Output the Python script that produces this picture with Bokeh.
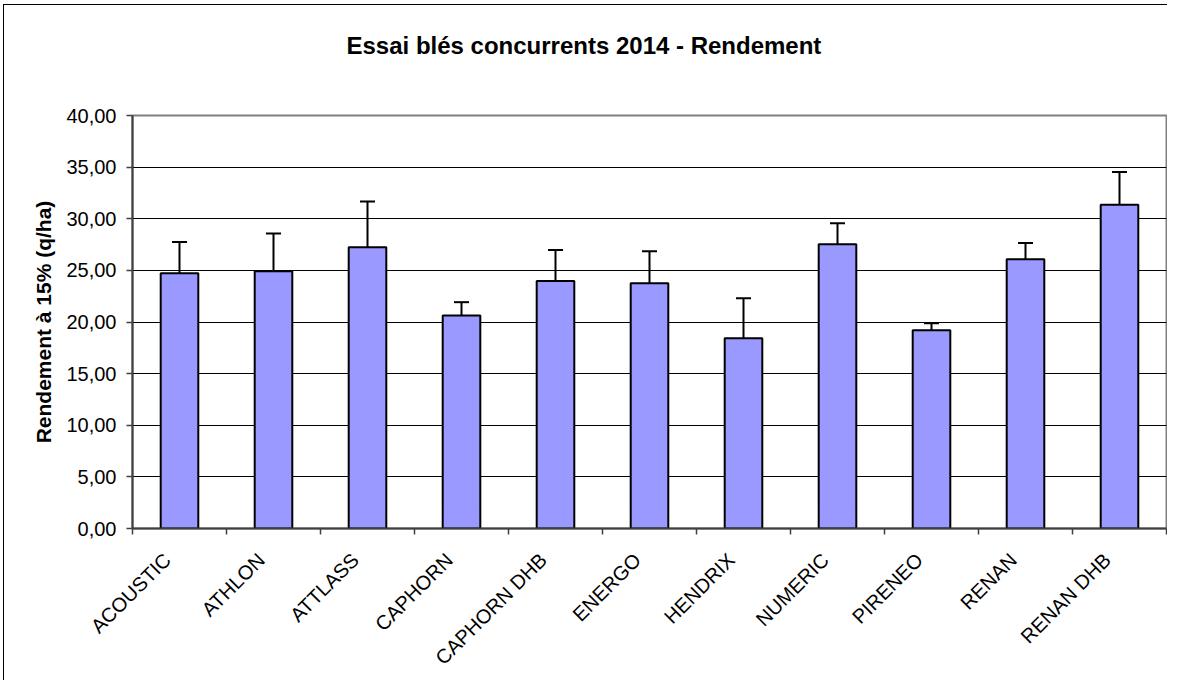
import math
from bokeh.plotting import figure
from bokeh.models import (ColumnDataSource, FixedTicker, Whisker, TeeHead, Range1d,
                          Title, LinearAxis)
from bokeh.embed import file_html
from bokeh.resources import INLINE

# ---- data ----
varietes = ["ACOUSTIC", "ATHLON", "ATTLASS", "CAPHORN", "CAPHORN DHB", "ENERGO",
            "HENDRIX", "NUMERIC", "PIRENEO", "RENAN", "RENAN DHB"]
rendement = [24.72, 24.91, 27.24, 20.62, 23.98, 23.75, 18.43, 27.53, 19.20, 26.08, 31.36]
ecart = [3.03, 3.65, 4.42, 1.30, 3.00, 3.10, 3.87, 2.03, 0.68, 1.58, 3.17]
y_ticks = [0, 5, 10, 15, 20, 25, 30, 35, 40]
y_tick_labels = ["0,00", "5,00", "10,00", "15,00", "20,00", "25,00", "30,00", "35,00", "40,00"]
titre = "Essai blés concurrents 2014 - Rendement"
y_titre = "Rendement à 15% (q/ha)"

FONT = "Liberation Sans"

pos = [i + 0.5 for i in range(len(varietes))]
label_pos = [x - 0.13 for x in pos]
upper = [r + e for r, e in zip(rendement, ecart)]
src = ColumnDataSource(dict(x=pos, top=rendement, upper=upper, name=varietes))

p = figure(width=1164, height=676,
           x_range=Range1d(0, len(varietes)), y_range=Range1d(0, 40),
           output_backend="svg", toolbar_location=None,
           min_border_left=128, min_border_right=2,
           min_border_top=110, min_border_bottom=153)
p.styles = {"border-left": "1px solid black", "border-top": "1px solid black",
            "margin-left": "3px", "margin-top": "4px"}

p.background_fill_color = "white"
p.border_fill_color = "white"
p.outline_line_color = "#808080"
p.outline_line_width = 2

# invisible spacer between plot area and title
spacer = LinearAxis(ticker=FixedTicker(ticks=[0.0], minor_ticks=[]),
                    major_label_overrides={0.0: ""},
                    major_label_text_font_size="0px", major_label_standoff=0,
                    major_tick_out=56, major_tick_in=0, minor_tick_out=0,
                    major_tick_line_color=None, axis_line_color=None)
p.add_layout(spacer, "above")

p.add_layout(Title(text=titre, align="left", offset=214, standoff=2,
                   text_font=FONT, text_font_size="24px", text_font_style="bold",
                   text_color="black"), "above")

p.vbar(x="x", top="top", bottom=0, width=0.4, source=src,
       fill_color="#9999FF", line_color="black", line_width=2)

w = Whisker(source=src, base="x", lower="top", upper="upper",
            line_color="black", line_width=2,
            upper_head=TeeHead(size=15, line_color="black", line_width=2),
            lower_head=None)
p.add_layout(w)

# x axis
xax = p.below[0]
xax.ticker = FixedTicker(ticks=label_pos, minor_ticks=list(range(len(varietes) + 1)))
xax.major_label_overrides = {float(x): n for x, n in zip(label_pos, varietes)}
xax.major_label_orientation = math.pi / 4
xax.major_tick_out = 0
xax.major_tick_in = 0
xax.minor_tick_out = 6
xax.minor_tick_in = 0
xax.major_label_standoff = 22

# y axis
yax = p.left[0]
yax.ticker = FixedTicker(ticks=y_ticks, minor_ticks=[])
yax.major_label_overrides = {t: l for t, l in zip(y_ticks, y_tick_labels)}
yax.major_tick_out = 6
yax.major_tick_in = 0
yax.minor_tick_out = 0
yax.major_label_standoff = 10
yax.axis_label = y_titre
yax.axis_label_standoff = 8
yax.axis_label_text_font = FONT
yax.axis_label_text_font_size = "21px"
yax.axis_label_text_font_style = "bold"
yax.axis_label_text_color = "black"

for ax in (xax, yax):
    ax.axis_line_color = "#404040"
    ax.axis_line_width = 2
    ax.major_tick_line_color = "#404040"
    ax.minor_tick_line_color = "#404040"
    ax.major_tick_line_width = 1.5
    ax.minor_tick_line_width = 1.5
    ax.major_label_text_font = FONT
    ax.major_label_text_font_size = "20px"
    ax.major_label_text_color = "black"

p.xgrid.visible = False
p.ygrid.grid_line_color = "black"
p.ygrid.grid_line_width = 1

open("out.html", "w").write(file_html(p, INLINE))
